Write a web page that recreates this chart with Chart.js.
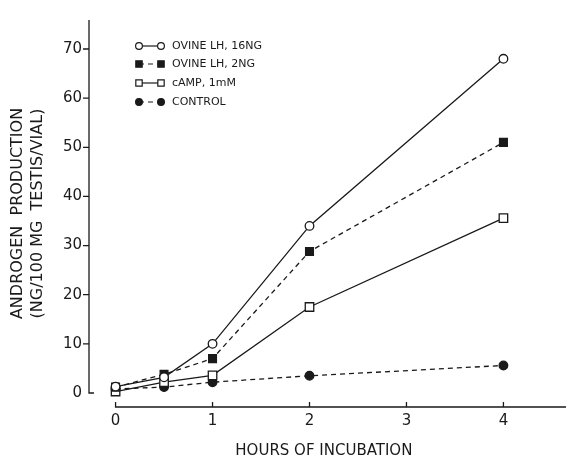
<!DOCTYPE html>
<html>
<head>
<meta charset="utf-8">
<script src="https://cdn.jsdelivr.net/npm/chart.js@4"></script>
<style>
  html, body { margin: 0; padding: 0; background: #fff; }
  #wrap { width: 566px; height: 461px; }
</style>
</head>
<body>
<div id="wrap"><canvas id="chart" width="566" height="461"></canvas></div>
<script>
// hours of incubation
const hours = [0, 0.5, 1, 2, 4];

// androgen production, ng/100 mg testis/vial
const lh16 = [1.3, 3.2, 10, 34, 68];
const lh2 = [1.2, 3.8, 7, 28.8, 51];
const camp = [0.3, 2.2, 3.6, 17.5, 35.6];
const control = [0.8, 1.2, 2.2, 3.5, 5.6];

const yTicks = [0, 10, 20, 30, 40, 50, 60, 70];
const xTicks = [0, 1, 2, 3, 4];

const seriesNames = ['OVINE LH, 16NG', 'OVINE LH, 2NG', 'cAMP, 1mM', 'CONTROL'];

const ink = '#1a1a1a';

function pts(vals) {
    return hours.map((h, i) => ({ x: h, y: vals[i] }));
}

function makeSet(name, vals, style, filled, dashed, r) {
    return {
        label: name,
        data: pts(vals),
        borderColor: ink,
        borderWidth: 1.3,
        borderDash: dashed ? [5, 4] : [],
        pointStyle: style,
        pointRadius: r,
        pointBorderWidth: 1.3,
        pointBackgroundColor: filled ? ink : '#fff',
        pointBorderColor: ink,
        tension: 0,
        fill: false
    };
}

// axes drawn like the original plot: y line ends at 0, x line starts at 0
const axesPlugin = {
    id: 'axesPlugin',
    afterDraw(chart) {
        const ctx = chart.ctx;
        const xs = chart.scales.x;
        const ys = chart.scales.y;
        const top = chart.chartArea.top;
        const bottom = chart.chartArea.bottom;
        const ax = xs.getPixelForValue(xs.min);
        const y0 = ys.getPixelForValue(0);
        ctx.save();
        ctx.strokeStyle = ink;
        ctx.lineWidth = 1.3;
        ctx.beginPath();
        ctx.moveTo(ax, top);
        ctx.lineTo(ax, y0);
        ctx.lineTo(ax + 5, y0);
        yTicks.forEach(v => {
            if (v === 0) return;
            const p = ys.getPixelForValue(v);
            ctx.moveTo(ax - 6, p);
            ctx.lineTo(ax, p);
        });
        const x0 = xs.getPixelForValue(0);
        ctx.moveTo(x0, bottom - 5);
        ctx.lineTo(x0, bottom);
        ctx.lineTo(chart.width, bottom);
        xTicks.forEach(v => {
            const p = xs.getPixelForValue(v);
            ctx.moveTo(p, bottom);
            ctx.lineTo(p, bottom - 5);
        });
        ctx.stroke();
        ctx.restore();
    }
};

// legend in the top-left corner of the plot
const legendPlugin = {
    id: 'legendPlugin',
    afterDatasetsDraw(chart) {
        const ctx = chart.ctx;
        const rows = [46, 64, 83, 102];
        ctx.save();
        chart.data.datasets.forEach((ds, i) => {
            const y = rows[i];
            ctx.strokeStyle = ink;
            ctx.lineWidth = 1.2;
            ctx.setLineDash(ds.borderDash);
            ctx.beginPath();
            ctx.moveTo(139, y);
            ctx.lineTo(161, y);
            ctx.stroke();
            ctx.setLineDash([]);
            [139, 161].forEach(px => {
                ctx.fillStyle = ds.pointBackgroundColor;
                ctx.strokeStyle = ink;
                Chart.helpers.drawPoint(ctx, {
                    pointStyle: ds.pointStyle,
                    radius: ds.pointStyle === 'rect' ? 4.5 : 3.4,
                    borderWidth: 1.2,
                    rotation: 0
                }, px, y);
            });
            ctx.fillStyle = ink;
            ctx.font = '11px "DejaVu Sans"';
            ctx.textBaseline = 'middle';
            ctx.fillText(ds.label, 172, y);
        });
        ctx.restore();
    }
};

const chart = new Chart(document.getElementById('chart'), {
    type: 'line',
    data: {
        datasets: [
            makeSet(seriesNames[0], lh16, 'circle', false, false, 4.3),
            makeSet(seriesNames[1], lh2, 'rect', true, true, 5.5),
            makeSet(seriesNames[2], camp, 'rect', false, false, 6),
            makeSet(seriesNames[3], control, 'circle', true, true, 4.3)
        ]
    },
    options: {
        responsive: false,
        animation: false,
        layout: { padding: { top: 20, right: 0, left: 0, bottom: 0 } },
        plugins: {
            legend: { display: false },
            tooltip: { enabled: false }
        },
        scales: {
            x: {
                type: 'linear',
                min: -0.274,
                max: 4.57,
                grid: { display: false, drawTicks: false },
                border: { display: false },
                afterBuildTicks: s => { s.ticks = xTicks.map(v => ({ value: v })); },
                afterFit: s => { s.height = 54; },
                ticks: {
                    color: ink,
                    padding: 5,
                    font: { family: 'DejaVu Sans', size: 15 }
                },
                title: {
                    display: true,
                    text: 'HOURS OF INCUBATION',
                    color: ink,
                    padding: { top: 0, bottom: 1 },
                    font: { family: 'DejaVu Sans', size: 15 }
                }
            },
            y: {
                min: -2.85,
                max: 75.9,
                grid: { display: false, drawTicks: false },
                border: { display: false },
                afterBuildTicks: s => { s.ticks = yTicks.map(v => ({ value: v })); },
                afterFit: s => { s.width = 89; },
                ticks: {
                    color: ink,
                    padding: 7,
                    font: { family: 'DejaVu Sans', size: 15 }
                },
                title: {
                    display: true,
                    text: ['ANDROGEN  PRODUCTION', '(NG/100 MG  TESTIS/VIAL)'],
                    color: ink,
                    padding: { top: 8, bottom: 0 },
                    font: { family: 'DejaVu Sans', size: 16, lineHeight: 1.25 }
                }
            }
        }
    },
    plugins: [axesPlugin, legendPlugin]
});
</script>
</body>
</html>
